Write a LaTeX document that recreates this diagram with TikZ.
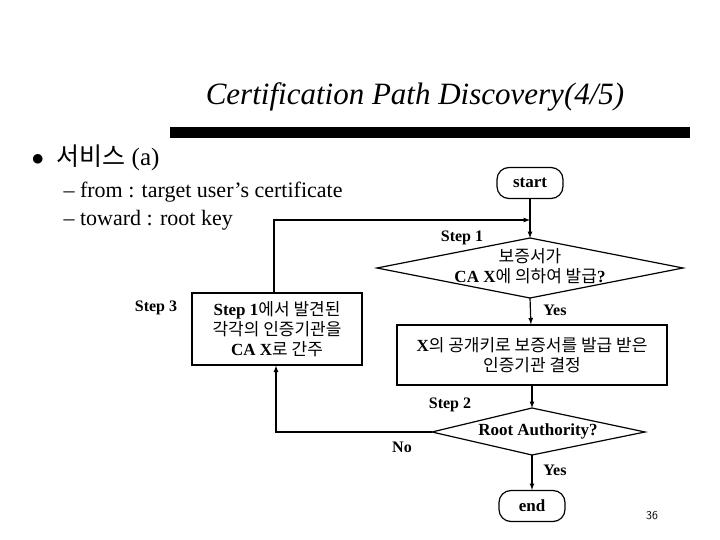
\documentclass[tikz,border=0pt]{standalone}
\usepackage{fontspec}
\setmainfont{Liberation Serif}
\newfontfamily\kr{Noto Sans CJK KR}
\usetikzlibrary{positioning}
\usetikzlibrary{arrows}
\begin{document}
\begin{tikzpicture}[x=1pt,y=-1pt]
\tikzstyle{flow}=[very thick,draw=black,-latex];
\tikzstyle{term}=[draw,very thick,rounded corners=12pt,minimum width=66pt,minimum height=31pt,font=\fontsize{17}{17}\selectfont\bfseries];
\tikzstyle{proc}=[draw,very thick,align=center,font=\fontsize{17}{20}\selectfont,inner sep=0pt];
\tikzstyle{txt}=[align=center,font=\fontsize{17}{20}\selectfont];
\tikzstyle{lbl}=[font=\fontsize{16}{16}\selectfont\bfseries];
\useasboundingbox (0,0) rectangle (720,540);

% title and bullets
\node (title) at (415,97) {\fontsize{31}{31}\selectfont\itshape Certification Path Discovery(4/5)};
\fill (170,127) rectangle (690,138);
\node[anchor=west] (bul) at (28,158) {\fontsize{25}{25}\selectfont $\bullet$\ \ {\kr 서비스} (a)};
\node[anchor=west] (from) at (60,192) {\fontsize{22}{22}\selectfont -- from : target user's certificate};
\node[anchor=west] (toward) at (60,220) {\fontsize{22}{22}\selectfont -- toward : root key};

% flow chart
\node[term] (start) at (530,183) {start};
\coordinate (ask1n) at (530,238);
\coordinate (ask1s) at (530,298);
\draw[very thick] (ask1n) -- (683,268) -- (ask1s) -- (377,268) -- cycle;
\node[txt] (ask1) at (530,266) {{\kr 보증서가}\\\textbf{CA X}{\kr 에 의하여 발급}\textbf{?}};
\node[proc,minimum width=270pt,minimum height=60pt] (find) at (532,355) {\textbf{X}{\kr 의 공개키로 보증서를 발급 받은}\\{\kr 인증기관 결정}};
\coordinate (ask2n) at (532,408);
\coordinate (ask2s) at (532,455);
\coordinate (ask2w) at (432,432);
\draw[very thick] (ask2n) -- (645,432) -- (ask2s) -- (ask2w) -- cycle;
\node[txt] (ask2) at (538,431) {\bfseries Root Authority?};
\node[term] (end) at (532,506) {end};
\node[proc,minimum width=170pt,minimum height=72pt] (step3box) at (277,329) {\textbf{Step 1}{\kr 에서 발견된}\\{\kr 각각의 인증기관을}\\\textbf{CA X}{\kr 로 간주}};
\coordinate (top) at (274,220);
\coordinate (bot) at (276,432);

\draw[flow] (start) -- (ask1n);
\draw[flow] (ask1s) -- (find);
\draw[flow] (find) -- (ask2n);
\draw[flow] (ask2s) -- (end);
\draw[flow] (ask2w) -- (bot) -- (bot|-step3box.south);
\draw[flow] (step3box.north-|top) -- (top) -- (top-|start);

\node[lbl] (s1) at (462,238) {Step 1};
\node[lbl] (s2) at (450,405) {Step 2};
\node[lbl] (s3) at (156,308) {Step 3};
\node[lbl] (yes1) at (555,310) {Yes};
\node[lbl] (yes2) at (555,470) {Yes};
\node[lbl] (no) at (402,447) {No};
\node (num) at (652,516) {\sffamily\fontsize{12}{12}\selectfont 36};
\end{tikzpicture}
\end{document}
